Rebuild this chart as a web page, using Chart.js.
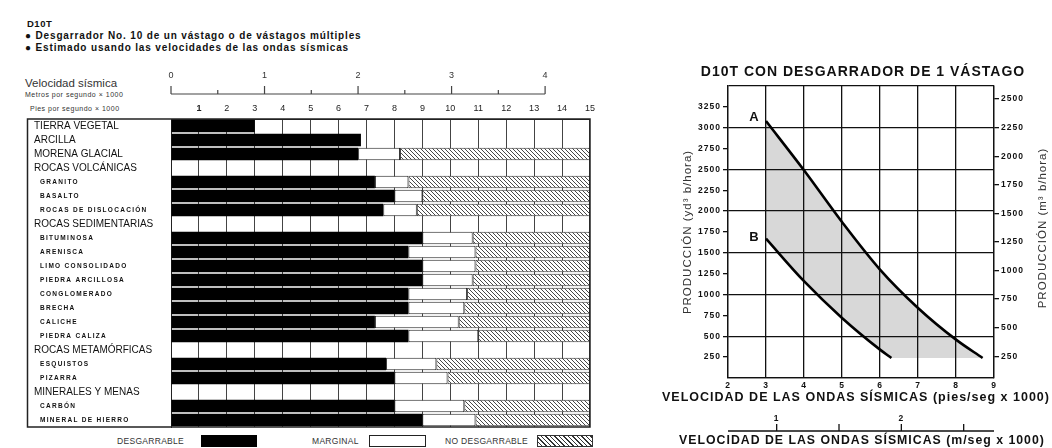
<!DOCTYPE html>
<html><head><meta charset="utf-8">
<script src="https://cdn.jsdelivr.net/npm/chart.js@4.4.0/dist/chart.umd.min.js"></script>
<style>
body{margin:0;width:1052px;height:448px;background:#fff;position:relative;overflow:hidden;font-family:"Liberation Sans",Arial,sans-serif;color:#111}
.t{position:absolute;white-space:nowrap;line-height:1}
#left{position:absolute;left:0;top:60px}
#right{position:absolute;left:650px;top:60px}
.box{position:absolute;top:435px;height:12px;box-sizing:border-box}
</style></head><body>
<div class="t" style="left:27px;top:19px;font-size:9.5px;font-weight:bold;letter-spacing:.5px">D10T</div>
<div class="t" style="left:25px;top:31px;font-size:10px;font-weight:bold;letter-spacing:.85px">● Desgarrador No. 10 de un vástago o de vástagos múltiples</div>
<div class="t" style="left:25px;top:43.3px;font-size:10px;font-weight:bold;letter-spacing:.85px">● Estimado usando las velocidades de las ondas sísmicas</div>
<div class="t" style="left:25px;top:77.5px;font-size:11.5px;color:#333">Velocidad sísmica</div>
<div class="t" style="left:25px;top:90.5px;font-size:7px;color:#333;letter-spacing:.5px">Metros por segundo × 1000</div>
<div class="t" style="left:30px;top:105px;font-size:7px;color:#333;letter-spacing:.5px">Pies por segundo × 1000</div>

<canvas id="left" width="600" height="372"></canvas>
<canvas id="right" width="402" height="388"></canvas>

<div class="t" style="left:117px;top:436.5px;font-size:8.5px;color:#333;letter-spacing:.3px">DESGARRABLE</div>
<div class="box" style="left:201px;width:56px;background:#000"></div>
<div class="t" style="left:312px;top:436.5px;font-size:8.5px;color:#333;letter-spacing:.3px">MARGINAL</div>
<div class="box" style="left:369px;width:57px;border:1px solid #222;background:#fff"></div>
<div class="t" style="left:445px;top:436.5px;font-size:8.5px;color:#333;letter-spacing:.3px">NO DESGARRABLE</div>
<div class="box" style="left:537px;width:56px;border:1px solid #333;background:repeating-linear-gradient(45deg,#fff 0 2.2px,#333 2.2px 3.2px)"></div>

<script>
// ---------- Left chart data (velocidad sísmica, pies/seg x 1000) ----------
const rockTypes = ['TIERRA VEGETAL','ARCILLA','MORENA GLACIAL','ROCAS VOLCÁNICAS','GRANITO','BASALTO','ROCAS DE DISLOCACIÓN','ROCAS SEDIMENTARIAS','BITUMINOSA','ARENISCA','LIMO CONSOLIDADO','PIEDRA ARCILLOSA','CONGLOMERADO','BRECHA','CALICHE','PIEDRA CALIZA','ROCAS METAMÓRFICAS','ESQUISTOS','PIZARRA','MINERALES Y MENAS','CARBÓN','MINERAL DE HIERRO'];
const isSubtype = [0,0,0,0,1,1,1,0,1,1,1,1,1,1,1,1,0,1,1,0,1,1];
const rippableTo = [3.0,6.8,6.7,null,7.3,8.0,7.6,null,9.0,8.5,9.0,9.0,8.5,8.5,7.3,8.5,null,7.7,8.0,null,8.0,9.0];
const marginalTo = [null,null,8.2,null,8.5,9.0,8.8,null,10.8,10.9,10.9,10.8,10.6,10.5,10.3,11.0,null,9.5,9.9,null,10.5,10.9];
const ftScaleMax = 15;
const ftTickLabels = ['1','2','3','4','5','6','7','8','9','10','11','12','13','14','15'];
const meterTickLabels = ['0','1','2','3','4'];
const meterRulerTicks = [0,0.5,1,1.5,2,2.5,3,3.5,4];
const meterAxisMax = 4.48;

// ---------- Right chart data ----------
const curveAx = [3.0, 4.0, 5.0, 6.0, 7.0, 8.0, 8.7];
const curveAy = [3080, 2490, 1870, 1300, 840, 460, 240];
const curveBx = [3.0, 4.0, 5.0, 6.0, 6.3];
const curveBy = [1670, 1160, 720, 340, 240];
const yd3Ticks = [250,500,750,1000,1250,1500,1750,2000,2250,2500,2750,3000,3250];
const m3Ticks = [250,500,750,1000,1250,1500,1750,2000,2250,2500];
const ftPerMeter = 3.2808;
const metricRulerTicks = [1, 1.5, 2, 2.5];
const metricTickLabels = ['1', '2'];
const xTitleFt = 'VELOCIDAD DE LAS ONDAS SÍSMICAS (pies/seg x 1000)';
const xTitleM = 'VELOCIDAD DE LAS ONDAS SÍSMICAS (m/seg x 1000)';

Chart.defaults.font.family = '"Liberation Sans", Arial, sans-serif';
Chart.defaults.color = '#111';

function hatch() {
  const c = document.createElement('canvas'); c.width = 4; c.height = 4;
  const g = c.getContext('2d');
  g.fillStyle = '#fff'; g.fillRect(0,0,4,4);
  g.strokeStyle = '#333'; g.lineWidth = 0.9;
  g.beginPath();
  g.moveTo(-1,-1); g.lineTo(5,5);
  g.moveTo(-1,3); g.lineTo(1,5);
  g.moveTo(3,-1); g.lineTo(5,1);
  g.stroke();
  return g.createPattern(c, 'repeat');
}

const frame = {
  id: 'frame',
  afterDraw(chart) {
    const {ctx, chartArea: a} = chart;
    ctx.save(); ctx.strokeStyle = '#222'; ctx.lineWidth = 1.5;
    ctx.strokeRect(27.5, a.top, a.right - 27.5, a.bottom - a.top);
    ctx.restore();
  }
};
const rowLabels = {
  id: 'rowLabels',
  afterDraw(chart) {
    const {ctx} = chart; const y = chart.scales.y;
    ctx.save(); ctx.textBaseline = 'middle'; ctx.fillStyle = '#111';
    rockTypes.forEach((name, i) => {
      const py = y.getPixelForValue(i);
      if (isSubtype[i]) { ctx.font = 'bold 6.5px "Liberation Sans"'; ctx.letterSpacing = '1.3px'; ctx.fillText(name, 40, py + 0.5); }
      else { ctx.font = '10px "Liberation Sans"'; ctx.letterSpacing = '0px'; ctx.fillText(name, 34, py + 0.5); }
    });
    ctx.restore();
  }
};
const meterRuler = {
  id: 'meterRuler',
  afterDraw(chart) {
    const s = chart.scales.x2, ctx = chart.ctx, yb = s.bottom;
    ctx.save(); ctx.strokeStyle = '#444'; ctx.lineWidth = 1.2;
    ctx.beginPath();
    ctx.moveTo(s.getPixelForValue(meterRulerTicks[0]), yb);
    ctx.lineTo(s.getPixelForValue(meterRulerTicks[meterRulerTicks.length-1]), yb);
    meterRulerTicks.forEach(v => { const px = s.getPixelForValue(v); ctx.moveTo(px, yb); ctx.lineTo(px, yb - (Number.isInteger(v) ? 8 : 4)); });
    ctx.stroke(); ctx.restore();
  }
};

const pat = hatch();
new Chart(document.getElementById('left'), {
  type: 'bar',
  data: {
    labels: rockTypes,
    datasets: [
      { label: 'DESGARRABLE', data: rippableTo.map(v => v == null ? null : [0, v]), backgroundColor: '#000', borderWidth: 0 },
      { label: 'MARGINAL', data: rippableTo.map((v, i) => marginalTo[i] == null ? null : [v, marginalTo[i]]), backgroundColor: '#fff', borderColor: '#222', borderWidth: 1, borderSkipped: false },
      { label: 'NO DESGARRABLE', data: marginalTo.map(v => v == null ? null : [v, ftScaleMax]), backgroundColor: pat, borderColor: '#333', borderWidth: 1, borderSkipped: false }
    ]
  },
  options: {
    responsive: false, animation: false, indexAxis: 'y',
    datasets: { bar: { grouped: false, barPercentage: 0.88, categoryPercentage: 1 } },
    layout: { padding: { left: 27, right: 6, top: 0, bottom: 5 } },
    plugins: { legend: { display: false }, tooltip: { enabled: false } },
    scales: {
      y: { type: 'category', ticks: { display: false }, grid: { display: false }, border: { color: '#222', width: 1 },
           afterFit(s) { s.width = 144; } },
      x: { type: 'linear', position: 'top', min: 0, max: ftScaleMax,
           ticks: { stepSize: 1, padding: 5, color: '#222', callback: v => v === 0 ? '' : ftTickLabels[v - 1],
                    font: c => ({ size: 9, weight: c.tick && c.tick.value === 1 ? 'bold' : 'normal' }) },
           grid: { color: '#444', lineWidth: 1, drawTicks: false }, border: { display: true, color: '#222' },
           afterFit(s) { s.height = 25; } },
      x2: { type: 'linear', position: 'top', weight: 1, min: 0, max: meterAxisMax,
            afterBuildTicks(s) { s.ticks = meterTickLabels.map((t, i) => ({ value: i })); },
            ticks: { padding: 13, color: '#333', font: { size: 9 }, callback: (v, i) => meterTickLabels[i] },
            grid: { display: false, drawTicks: false }, border: { display: false },
            afterFit(s) { s.height = 34; } }
    }
  },
  plugins: [frame, rowLabels, meterRuler]
});

// ---------- Right chart ----------
const ptsA = curveAx.map((x, i) => ({ x, y: curveAy[i] }));
const ptsB = curveBx.map((x, i) => ({ x, y: curveBy[i] }));
const lowerBound = ptsB.concat([{ x: curveAx[curveAx.length - 1], y: curveBy[curveBy.length - 1] }]);

const spacing = { id: 'spacing', beforeDraw(chart) { chart.ctx.letterSpacing = '1px'; } };
const extras = {
  id: 'extras',
  afterDraw(chart) {
    const {ctx, scales: {x, y, x2, y2}, chartArea: a} = chart;
    const cx = (a.left + a.right) / 2;
    ctx.save();
    ctx.letterSpacing = '0px';
    ctx.fillStyle = '#111'; ctx.font = 'bold 13px "Liberation Sans"'; ctx.textAlign = 'center'; ctx.textBaseline = 'middle';
    ctx.fillText('A', x.getPixelForValue(curveAx[0]) - 12, y.getPixelForValue(curveAy[0]) - 4);
    ctx.fillText('B', x.getPixelForValue(curveBx[0]) - 12, y.getPixelForValue(curveBy[0]) - 1);
    // axis titles (drawn without width compression)
    ctx.letterSpacing = '1px';
    ctx.font = 'bold 12.5px "Liberation Sans"';
    ctx.fillText(xTitleFt, cx - 5, x.bottom - 7);
    ctx.font = 'bold 12.3px "Liberation Sans"';
    ctx.fillText(xTitleM, cx + 1, x2.bottom - 7);
    ctx.font = '11.5px "Liberation Sans"'; ctx.fillStyle = '#333';
    ctx.translate(y2.right - 9, (a.top + a.bottom) / 2 - 4); ctx.rotate(-Math.PI / 2);
    ctx.fillText('PRODUCCIÓN (m³ b/hora)', 0, 0);
    ctx.restore();
    // metric ruler
    ctx.save(); ctx.strokeStyle = '#111'; ctx.lineWidth = 1.3;
    const yl = x2.bottom - 17;
    ctx.beginPath(); ctx.moveTo(x2.left, yl); ctx.lineTo(x2.right, yl);
    metricRulerTicks.forEach(v => { const px = x2.getPixelForValue(v); ctx.moveTo(px, yl); ctx.lineTo(px, yl - 7); });
    ctx.stroke(); ctx.restore();
  }
};

new Chart(document.getElementById('right'), {
  type: 'line',
  data: {
    datasets: [
      { label: 'A', data: ptsA, borderColor: '#000', borderWidth: 2.6, pointRadius: 0, cubicInterpolationMode: 'monotone', fill: '+1', backgroundColor: '#d8d8d8' },
      { label: 'bound', data: lowerBound, borderWidth: 0, borderColor: 'rgba(0,0,0,0)', pointRadius: 0, cubicInterpolationMode: 'monotone', fill: false },
      { label: 'B', data: ptsB, borderColor: '#000', borderWidth: 2.6, pointRadius: 0, cubicInterpolationMode: 'monotone', fill: false }
    ]
  },
  options: {
    responsive: false, animation: false,
    layout: { padding: { left: 24, right: 0, top: 0, bottom: 0 } },
    plugins: {
      legend: { display: false }, tooltip: { enabled: false },
      filler: { drawTime: 'beforeDraw' },
      title: { display: true, text: 'D10T CON DESGARRADOR DE 1 VÁSTAGO', color: '#111', font: { size: 14, weight: 'bold' }, padding: { top: 4, bottom: 5.2 } }
    },
    scales: {
      x: { type: 'linear', position: 'bottom', min: 2, max: 9,
           ticks: { stepSize: 1, padding: 3, color: '#111', font: { size: 8.5, weight: 'bold' } },
           grid: { color: '#111', lineWidth: 1.3, drawTicks: false }, border: { color: '#111', width: 1.3 },
           afterFit(s) { s.height = 27; } },
      x2: { type: 'linear', position: 'bottom', weight: 1, min: 2 / ftPerMeter, max: 9 / ftPerMeter,
            afterBuildTicks(s) { s.ticks = metricTickLabels.map(t => ({ value: Number(t) })); },
            ticks: { padding: 9, color: '#111', font: { size: 8.5, weight: 'bold' }, callback: (v, i) => metricTickLabels[i] },
            grid: { display: false, drawTicks: false }, border: { display: false },
            afterFit(s) { s.height = 43; } },
      y: { type: 'linear', position: 'left', min: 0, max: 3500,
           ticks: { stepSize: 250, padding: 2, color: '#111', font: { size: 8.5, weight: 'bold' }, callback: v => yd3Ticks.includes(v) ? String(v) : '' },
           grid: { color: c => c.tick && c.tick.value % 500 === 0 ? '#111' : 'rgba(0,0,0,0)', tickColor: c => c.tick && (c.tick.value === 0 || c.tick.value === 3500) ? 'rgba(0,0,0,0)' : '#111', lineWidth: 1.3, tickLength: 5 },
           border: { color: '#111', width: 1.3 },
           title: { display: true, text: 'PRODUCCIÓN (yd³ b/hora)', color: '#333', font: { size: 11.5 }, padding: { top: 7, bottom: 0 } },
           afterFit(s) { s.width = 54; } },
      y2: { type: 'linear', position: 'right', min: 60, max: 2615,
            afterBuildTicks(s) { s.ticks = m3Ticks.map(v => ({ value: v })); },
            ticks: { padding: 2, color: '#111', font: { size: 8.5, weight: 'bold' }, callback: v => String(v) },
            grid: { drawOnChartArea: false, color: '#111', lineWidth: 1.3, tickLength: 5 },
            border: { color: '#111', width: 1.3 },
            afterFit(s) { s.width = 58; } }
    }
  },
  plugins: [spacing, extras]
});
</script>
</body></html>
